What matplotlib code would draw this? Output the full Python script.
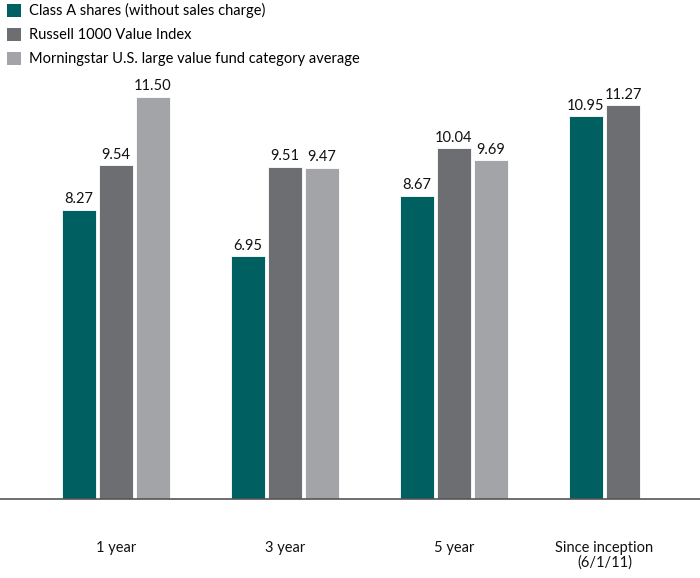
import numpy as np
import matplotlib.pyplot as plt
from matplotlib.patches import Patch

categories = ["1 year", "3 year", "5 year", "Since inception\n(6/1/11)"]
series_names = ["Class A shares (without sales charge)",
                "Russell 1000 Value Index",
                "Morningstar U.S. large value fund category average"]
class_a = [8.27, 6.95, 8.67, 10.95]
russell = [9.54, 9.51, 10.04, 11.27]
morningstar = [11.50, 9.47, 9.69, np.nan]

colors = ["#005f61", "#6d6e71", "#a3a4a7"]
plt.rcParams['font.family'] = ["Lato", "DejaVu Sans"]

fig = plt.figure(figsize=(7, 5.78), dpi=100)
# baseline at 499 px from top, 34.96 px per unit
ax = fig.add_axes([0, 79 / 578, 1, 454 / 578])
ax.set_ylim(0, 454 / 34.96)
ax.set_xlim(-116 / 169, (700 - 116) / 169)

x = np.arange(len(categories))
width = 34 / 169
step = 37 / 169
all_series = [class_a, russell, morningstar]
for i, vals in enumerate(all_series):
    xs = x + (i - 1) * step
    ax.bar(xs, vals, width=width, color=colors[i], edgecolor="white", linewidth=0.6)
    for xx, v in zip(xs, vals):
        if not np.isnan(v):
            ax.text(xx, v + 0.1, f"{v:.2f}", ha="center", va="bottom", fontsize=10.5, color="#111111")

for s in ["top", "right", "left"]:
    ax.spines[s].set_visible(False)
ax.spines["bottom"].set_color("#555555")
ax.spines["bottom"].set_linewidth(1.2)
ax.set_yticks([])
ax.set_xticks([])

label_x = [0, 1, 2, 3 - step / 2]
for lx, lab in zip(label_x, categories):
    ax.text(lx, -1.2, lab, ha="center", va="top", fontsize=10.5, color="#111111",
            linespacing=1.05)

handles = [Patch(facecolor=c, edgecolor="none") for c in colors]
fig.legend(handles, series_names, loc="upper left", bbox_to_anchor=(-0.003, 1.01),
           frameon=False, fontsize=10.5, handlelength=1.0, handleheight=1.0,
           handletextpad=0.5, labelspacing=0.65, borderaxespad=0.2)

fig.savefig("out.png", dpi=100)
